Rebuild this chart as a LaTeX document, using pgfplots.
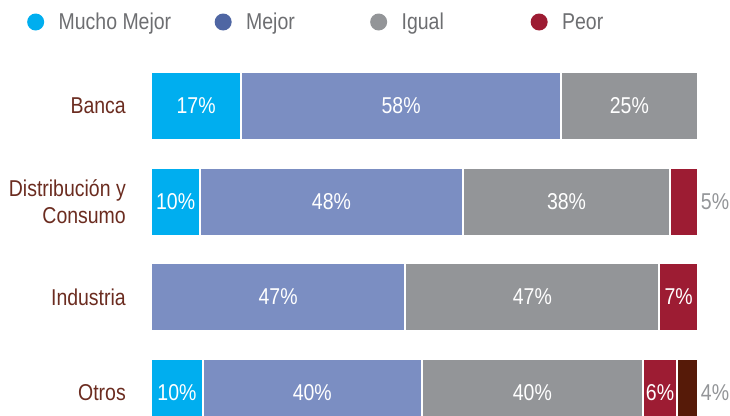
\documentclass[border=0pt]{standalone}
\usepackage{pgfplots}
\pgfplotsset{compat=1.18}
\usepackage{fontspec}
\setmainfont{Liberation Sans}[FakeStretch=0.85]

\definecolor{cMucho}{HTML}{00AEEF}
\definecolor{cMejor}{HTML}{7B8EC2}
\definecolor{cMejorDot}{HTML}{4F66A3}
\definecolor{cIgual}{HTML}{939598}
\definecolor{cPeor}{HTML}{9D1C33}
\definecolor{cOtro}{HTML}{561A08}
\definecolor{cLabel}{HTML}{6B2C20}
\definecolor{cLegend}{HTML}{6D6E71}

\begin{document}
\begin{tikzpicture}[font=\fontsize{23}{27.6}\selectfont]
  \useasboundingbox (0bp,0bp) rectangle (730bp,416bp);
  \begin{axis}[
      at={(151bp,0bp)}, anchor=south west,
      scale only axis, width=585bp, height=356bp,
      xmin=0, xmax=107, ymin=-0.246, ymax=3.482,
      xbar stacked, bar width=68bp,
      axis line style={draw=none}, tick style={draw=none}, major tick length=0pt,
      xtick=\empty, ytick={0,1,2,3},
      yticklabels={Otros, Industria, {Distribución y\\Consumo}, Banca},
      yticklabel style={align=right, text=cLabel, inner sep=0pt, xshift=-25bp},
      point meta=explicit symbolic,
      nodes near coords,
      every node near coord/.append style={text=white, draw=none},
      every axis plot/.append style={draw=white, line width=2bp},
      legend columns=4, legend cell align=left,
      legend style={at={(-0.2120,1.1067)}, anchor=west, draw=none, fill=none,
        inner sep=0pt, column sep=0pt, text=cLegend, nodes={inner sep=0pt}},
      legend image code/.code={\fill[#1, draw=none] (8bp,0bp) circle (8.5bp);
        \path[draw=none, fill=none] (0bp,0bp) -- (31bp,0bp);},
    ]
    % Mucho Mejor
    \addplot[fill=cMucho] coordinates {(9.5,0) [10\%] (0,1) [{}] (9,2) [10\%] (16.5,3) [17\%]};
    \addlegendentry{\makebox[156bp][l]{Mucho Mejor}}
    % Mejor
    \addplot[fill=cMejor, legend image code/.code={\fill[cMejorDot, draw=none] (8bp,0bp) circle (8.5bp);
        \path[draw=none, fill=none] (0bp,0bp) -- (31bp,0bp);}]
      coordinates {(40,0) [40\%] (46.5,1) [47\%] (48,2) [48\%] (58.5,3) [58\%]};
    \addlegendentry{\makebox[124bp][l]{Mejor}}
    % Igual
    \addplot[fill=cIgual] coordinates {(40.5,0) [40\%] (46.5,1) [47\%] (38,2) [38\%] (25,3) [25\%]};
    \addlegendentry{\makebox[129bp][l]{Igual}}
    % Peor
    \addplot[fill=cPeor] coordinates {(6.2,0) [6\%] (7,1) [7\%] (5,2) [{}] (0,3) [{}]};
    \addlegendentry{Peor}
    % otro
    \addplot[fill=cOtro] coordinates {(3.8,0) [{}] (0,1) [{}] (0,2) [{}] (0,3) [{}]};
    \node[anchor=west, text=cIgual, inner sep=0pt, xshift=3bp] at (axis cs:100,2) {5\%};
    \node[anchor=west, text=cIgual, inner sep=0pt, xshift=3bp] at (axis cs:100,0) {4\%};
  \end{axis}
\end{tikzpicture}
\end{document}
